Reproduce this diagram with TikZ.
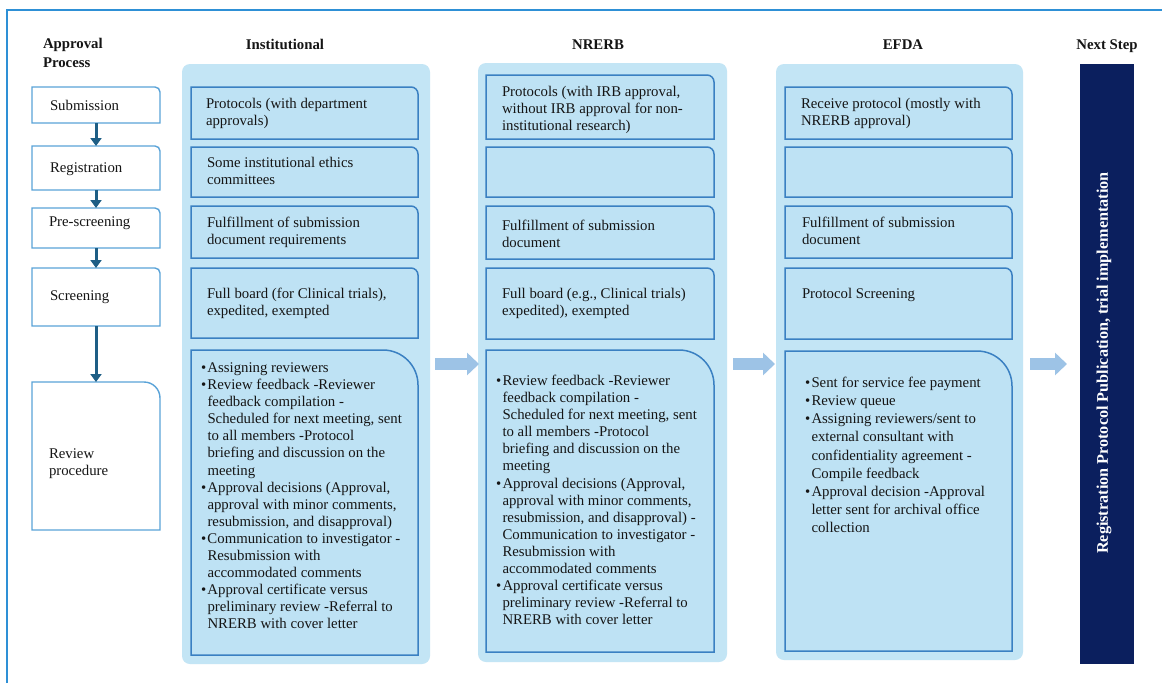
\documentclass[tikz,border=0pt]{standalone}
\usepackage{fontspec}
\setmainfont{Liberation Serif}
\usetikzlibrary{arrows.meta}
\definecolor{frameblue}{HTML}{2E90D6}
\definecolor{lboxline}{HTML}{5AA3D8}
\definecolor{panelfill}{HTML}{C3E5F5}
\definecolor{innerfill}{HTML}{BEE2F4}
\definecolor{innerline}{HTML}{3A80C2}
\definecolor{darkarrow}{HTML}{1E5E85}
\definecolor{bigarrowc}{HTML}{9DC3E6}
\definecolor{navybar}{HTML}{0B1F5E}
\definecolor{ink}{HTML}{151515}
\pgfdeclarelayer{panel}\pgfdeclarelayer{bg}\pgfsetlayers{panel,bg,main}
% corner-rounded outline (top right only) behind a named node
\newcommand\cbox[3]{%
\begin{pgfonlayer}{bg}
\path[#2] (#1.south west) -- (#1.north west) -- ([xshift=-#3pt]#1.north east)
  .. controls ([xshift={-0.4477*#3pt}]#1.north east) and ([yshift={-0.4477*#3pt}]#1.north east)
  .. ([yshift=-#3pt]#1.north east) -- (#1.south east) -- cycle;
\end{pgfonlayer}}
% name, x, y, w, h, style, radius
\newcommand\bx[7]{%
\node[boxnode,minimum width=#4pt,minimum height=#5pt] (#1) at (#2,#3) {};
\cbox{#1}{#6}{#7}}
\newcommand\bu{\makebox[6.5pt][l]{\textbullet}}
\newcommand\cu{\hspace*{6.5pt}}
\begin{document}
\begin{tikzpicture}[x=1pt,y=-1pt,
  every node/.style={inner sep=0pt,outer sep=0pt},
  boxnode/.style={rectangle,anchor=north west,draw=none},
  lboxst/.style={fill=white,draw=lboxline,line width=1.4pt},
  innerst/.style={fill=innerfill,draw=innerline,line width=1.5pt},
  panelst/.style={rectangle,anchor=north west,fill=panelfill,rounded corners=8pt},
  barst/.style={rectangle,anchor=north west,fill=navybar},
  txt/.style={anchor=north west,align=left,text=ink,font=\fontsize{14.8pt}{17.1pt}\selectfont},
  txtw/.style={anchor=north west,align=left,text=ink,font=\fontsize{14.8pt}{18.2pt}\selectfont},
  head/.style={anchor=base,text=ink,font=\fontsize{14.8pt}{19pt}\selectfont\bfseries},
  larrow/.style={draw=darkarrow,line width=3pt,-{Triangle[width=11pt,length=8pt]}},
  bigarr/.style={draw=bigarrowc,line width=12pt,-{Triangle[width=22pt,length=12pt]}}
]
\useasboundingbox (0,0) rectangle (1162,683);
\begin{pgfonlayer}{panel}
\fill[white] (0,0) rectangle (1162,683);
\end{pgfonlayer}
\draw[frameblue,line width=1.5pt] (7,683) -- (7,10) -- (1162,10);

% headers
\node[head,anchor=north west,align=left] (hap) at (43,38.5) {Approval\\Process};
\node[head] (hin) at (285,49) {Institutional};
\node[head] (hnr) at (598,49) {NRERB};
\node[head] (hef) at (903,49) {EFDA};
\node[head] (hns) at (1107,49) {Next Step};

% panels
\begin{pgfonlayer}{panel}
\node[panelst,minimum width=248pt,minimum height=600pt] (inst) at (182,64) {};
\node[panelst,minimum width=249pt,minimum height=599pt] (nrerb) at (478,63) {};
\node[panelst,minimum width=247pt,minimum height=596pt] (efda) at (776,64) {};
\node[barst,minimum width=54pt,minimum height=600pt] (next) at (1080,64) {};
\end{pgfonlayer}
\node[rotate=90,text=white,font=\fontsize{16.2pt}{18pt}\selectfont\bfseries] (nst) at (1104,363)
  {Registration Protocol Publication, trial implementation};

% left process column
\bx{sub}{32}{87}{128}{36}{lboxst}{5}
\bx{reg}{32}{146}{128}{44}{lboxst}{5}
\bx{pre}{32}{208}{128}{40}{lboxst}{5}
\bx{scr}{32}{268}{128}{58}{lboxst}{5}
\bx{rev}{32}{382}{128}{148}{lboxst}{16}
\node[txt] (subt) at (50,98.5) {\strut Submission};
\node[txt] (regt) at (50,160.5) {\strut Registration};
\node[txt] (pret) at (49,214.5) {\strut Pre-screening};
\node[txt] (scrt) at (50,288.5) {\strut Screening};
\node[txt] (revt) at (49,446.5) {\strut Review\\procedure};
\draw[larrow] (sub.south) -- (reg.north);
\draw[larrow] (reg.south) -- (pre.north);
\draw[larrow] (pre.south) -- (scr.north);
\draw[larrow] (scr.south) -- (rev.north);

% Institutional
\bx{i1}{191}{87}{227}{52}{innerst}{7}
\bx{i2}{191}{147}{227}{50}{innerst}{7}
\bx{i3}{191}{206}{227}{52}{innerst}{7}
\bx{i4}{191}{268}{227}{70}{innerst}{7}
\bx{i5}{191}{350}{227}{305}{innerst}{35}
\node[txt] (i1t) at (206,96.5) {\strut Protocols (with department\\approvals)};
\node[txt] (i2t) at (207,155.5) {\strut Some institutional ethics\\committees};
\node[txt] (i3t) at (207,215.5) {\strut Fulfillment of submission\\document requirements};
\node[txt] (i4t) at (207,286.5) {\strut Full board (for Clinical trials),\\expedited, exempted};
\node[txt] (i5t) at (201,360.5) {\strut\bu Assigning reviewers\\
\bu Review feedback -Reviewer\\
\cu feedback compilation -\\
\cu Scheduled for next meeting, sent\\
\cu to all members -Protocol\\
\cu briefing and discussion on the\\
\cu meeting\\
\bu Approval decisions (Approval,\\
\cu approval with minor comments,\\
\cu resubmission, and disapproval)\\
\bu Communication to investigator -\\
\cu Resubmission with\\
\cu accommodated comments\\
\bu Approval certificate versus\\
\cu preliminary review -Referral to\\
\cu NRERB with cover letter};

% NRERB
\bx{n1}{486}{75}{228}{64}{innerst}{7}
\bx{n2}{486}{147}{228}{50}{innerst}{7}
\bx{n3}{486}{206}{228}{53}{innerst}{7}
\bx{n4}{486}{268}{228}{71}{innerst}{7}
\bx{n5}{486}{350}{228}{302}{innerst}{35}
\node[txt] (n1t) at (502,84.5) {\strut Protocols (with IRB approval,\\without IRB approval for non-\\institutional research)};
\node[txt] (n3t) at (502,218.5) {\strut Fulfillment of submission\\document};
\node[txt] (n4t) at (502,286.5) {\strut Full board (e.g., Clinical trials)\\expedited), exempted};
\node[txt] (n5t) at (496,373.5) {\strut\bu Review feedback -Reviewer\\
\cu feedback compilation -\\
\cu Scheduled for next meeting, sent\\
\cu to all members -Protocol\\
\cu briefing and discussion on the\\
\cu meeting\\
\bu Approval decisions (Approval,\\
\cu approval with minor comments,\\
\cu resubmission, and disapproval) -\\
\cu Communication to investigator -\\
\cu Resubmission with\\
\cu accommodated comments\\
\bu Approval certificate versus\\
\cu preliminary review -Referral to\\
\cu NRERB with cover letter};

% EFDA
\bx{e1}{785}{87}{227}{52}{innerst}{7}
\bx{e2}{785}{147}{227}{50}{innerst}{7}
\bx{e3}{785}{206}{227}{52}{innerst}{7}
\bx{e4}{785}{268}{227}{71}{innerst}{7}
\bx{e5}{785}{351}{227}{300}{innerst}{35}
\node[txt] (e1t) at (801,96.5) {\strut Receive protocol (mostly with\\NRERB approval)};
\node[txt] (e3t) at (802,215.5) {\strut Fulfillment of submission\\document};
\node[txt] (e4t) at (802,286.5) {\strut Protocol Screening};
\node[txtw] (e5t) at (805,374.5) {\strut\bu Sent for service fee payment\\
\bu Review queue\\
\bu Assigning reviewers/sent to\\
\cu external consultant with\\
\cu confidentiality agreement -\\
\cu Compile feedback\\
\bu Approval decision -Approval\\
\cu letter sent for archival office\\
\cu collection};

% flow arrows between stages
\draw[bigarr] ([xshift=5pt]inst.east) -- ([xshift=1pt]nrerb.west |- inst.east);
\draw[bigarr] ([xshift=6pt]nrerb.east |- inst.east) -- ([xshift=-1pt]efda.west |- inst.east);
\draw[bigarr] ([xshift=7pt]efda.east |- inst.east) -- ([xshift=-13pt]next.west |- inst.east);
\end{tikzpicture}
\end{document}
